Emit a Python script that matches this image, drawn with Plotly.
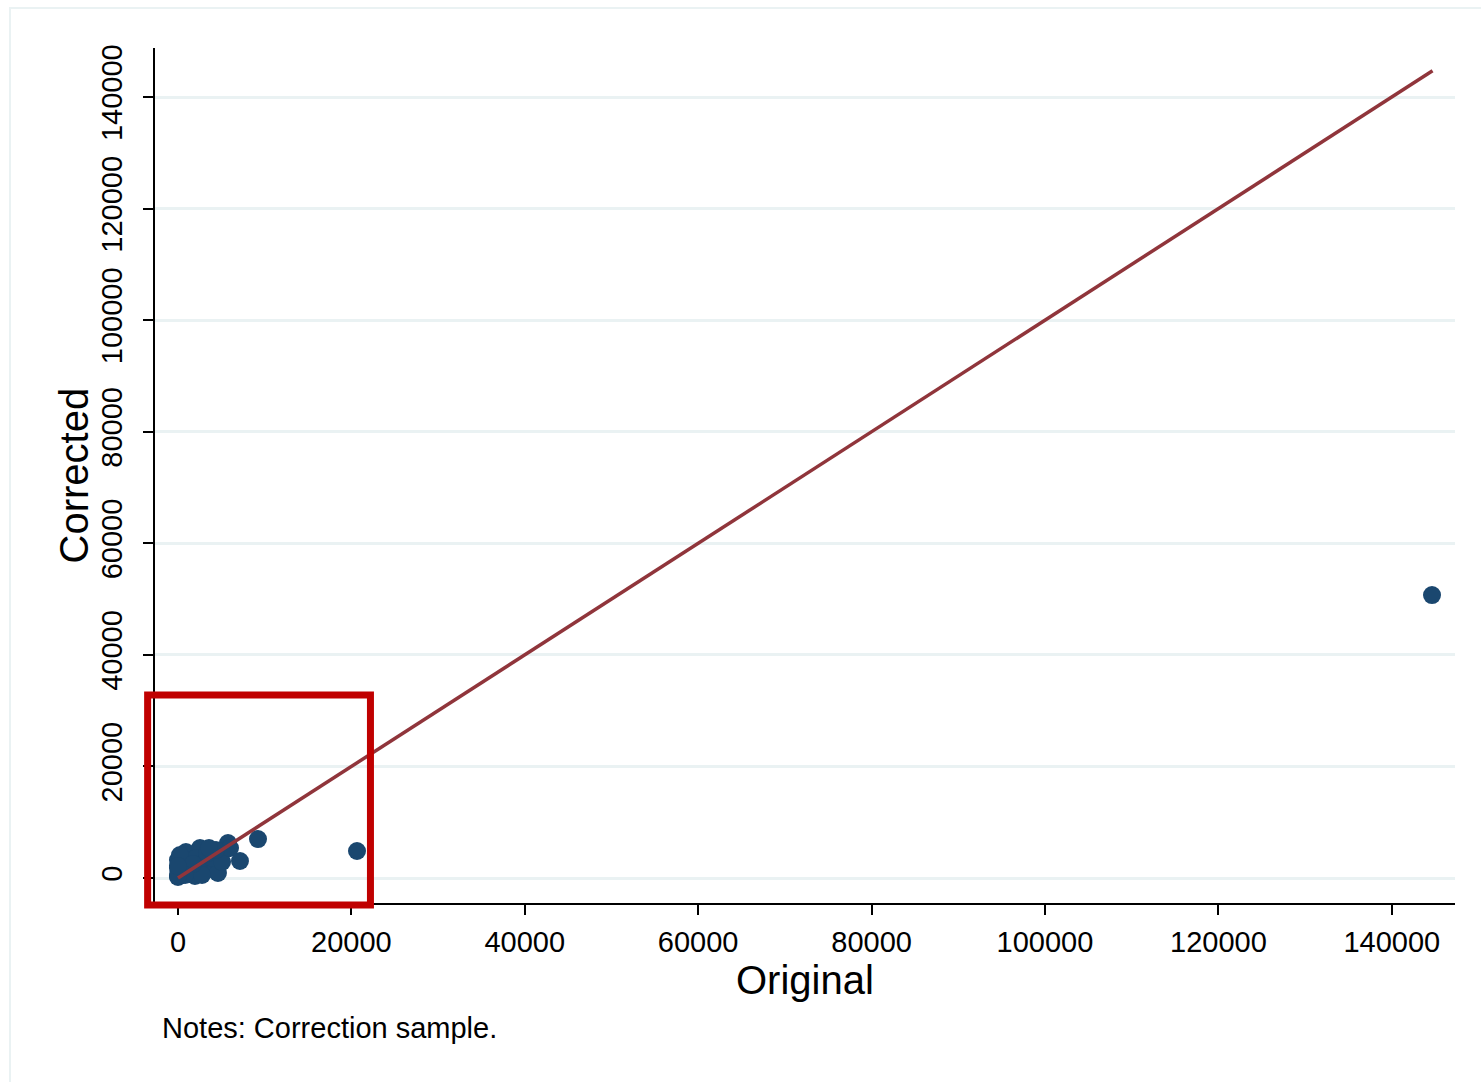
import plotly.graph_objects as go

# ---- data ----
original = [0, 230, 50, 460, 810, 0, 1380, 1960, 1150, 580, 1620, 920, 2540, 2080,
            3110, 3690, 4270, 4610, 3920, 4840, 5420, 5770, 3350, 2310, 2770, 0,
            230, 1730, 5080, 6000, 810, 0, 0, 4380, 3580, 7150, 9230, 20650, 144640]
corrected = [180, 540, 1080, 1430, 2150, 1790, 1080, 360, 2870, 3590, 4120, 4660, 5380, 3590,
             2870, 2150, 1430, 900, 3590, 4120, 5020, 6270, 4480, 1790, 540, 3230,
             4120, 2510, 2870, 5380, 540, 360, 2150, 5020, 5380, 3050, 6990, 4840, 50730]
line_x = [0, 144700]
line_y = [0, 144700]
x_ticks = [0, 20000, 40000, 60000, 80000, 100000, 120000, 140000]
y_ticks = [0, 20000, 40000, 60000, 80000, 100000, 120000, 140000]
x_range = [-2650, 147290]
y_range = [-4480, 148790]
# highlight box (data units)
box_x = [-3500, 22200]
box_y = [-4850, 32800]

FONT = "Liberation Sans, Arial, sans-serif"
W, H = 1481, 1082
ML, MR, MT, MB = 155, 26, 48, 179
PW, PH = W - ML - MR, H - MT - MB

def px(v):
    return (v - x_range[0]) / (x_range[1] - x_range[0])

def py(v):
    return (v - y_range[0]) / (y_range[1] - y_range[0])

fig = go.Figure()
fig.add_trace(go.Scatter(
    x=original, y=corrected, mode="markers",
    marker=dict(size=18, color="#1a476f", line=dict(width=0)),
    showlegend=False, cliponaxis=False))
fig.add_trace(go.Scatter(
    x=line_x, y=line_y, mode="lines",
    line=dict(color="#90353b", width=3.5),
    showlegend=False))

grid = "#eaf2f3"
fig.update_layout(
    width=W, height=H,
    margin=dict(l=ML, r=MR, t=MT, b=MB, pad=0),
    paper_bgcolor="white", plot_bgcolor="white",
    font=dict(family=FONT, color="black"),
    xaxis=dict(range=x_range, tickvals=x_ticks, ticktext=[str(v) for v in x_ticks],
               showgrid=False, zeroline=False, showline=True, linecolor="black", linewidth=2,
               ticks="outside", ticklen=10, tickwidth=2, tickcolor="black",
               tickfont=dict(size=29, family=FONT), ticklabelstandoff=2),
    yaxis=dict(range=y_range, tickvals=y_ticks, ticktext=[str(v) for v in y_ticks],
               showgrid=True, gridcolor=grid, gridwidth=3, zeroline=False,
               showline=True, linecolor="black", linewidth=2,
               ticks="outside", ticklen=10, tickwidth=2, tickcolor="black",
               tickangle=-90, tickfont=dict(size=29, family=FONT), ticklabelstandoff=9),
    shapes=[
        dict(type="rect", xref="paper", yref="paper",
             x0=(10 - ML) / PW, x1=(W + 20 - ML) / PW,
             y0=(H - MB - (H + 20)) / PH, y1=(H - MB - 8) / PH,
             line=dict(color=grid, width=2), layer="below"),
        dict(type="rect", xref="paper", yref="paper",
             x0=px(box_x[0]), x1=px(box_x[1]), y0=py(box_y[0]), y1=py(box_y[1]),
             line=dict(color="#c00000", width=7), fillcolor="rgba(0,0,0,0)", layer="above"),
    ],
    annotations=[
        dict(text="Notes: Correction sample.", xref="paper", yref="paper",
             x=(160 - ML) / PW, y=(H - MB - 1028) / PH,
             xanchor="left", yanchor="middle", showarrow=False,
             font=dict(size=29, family=FONT)),
        dict(text="Original", xref="paper", yref="paper",
             x=0.5, y=(H - MB - 980) / PH, xanchor="center", yanchor="middle",
             showarrow=False, font=dict(size=40, family=FONT)),
        dict(text="Corrected", xref="paper", yref="paper",
             x=(73 - ML) / PW, y=0.5, xanchor="center", yanchor="middle",
             textangle=-90, showarrow=False, font=dict(size=40, family=FONT)),
    ],
)

fig.write_html("out.html")
